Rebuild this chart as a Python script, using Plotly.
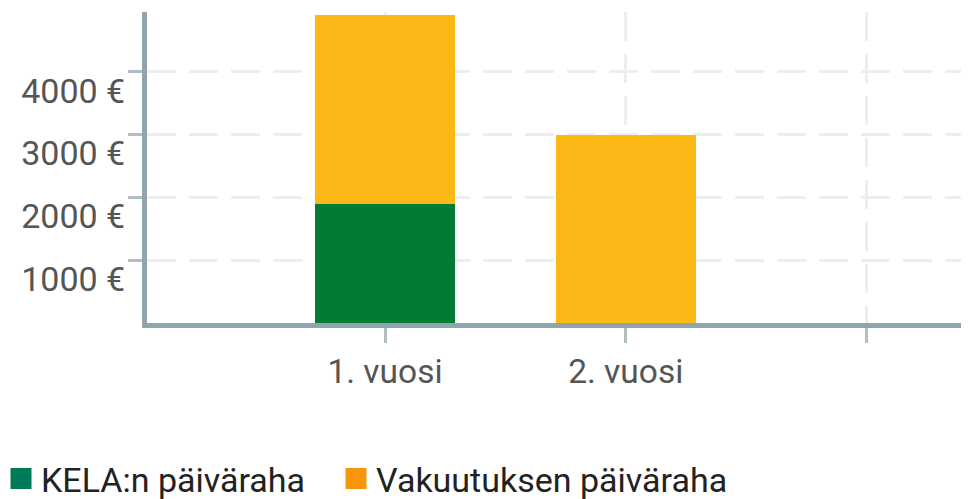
import plotly.graph_objects as go

categories = ["1. vuosi", "2. vuosi", ""]
kela_values = [1900, 0, None]
vakuutus_values = [3000, 3000, None]
series_names = ["KELA:n päiväraha", "Vakuutuksen päiväraha"]
bar_colors = ["#027b37", "#fcb816"]
legend_colors = ["#007b5a", "#f7950b"]
y_tick_values = [1000, 2000, 3000, 4000]
y_tick_labels = ["1000 €", "2000 €", "3000 €", "4000 €"]

x_pos = list(range(len(categories)))
FONT = "Roboto, Arial, sans-serif"

# page body has an 8px margin: the figure is sized so it ends at the window edge
W, H = 961, 491
L, T, B = 139, 4, 176
plot_w = W - L
plot_h = H - T - B

fig = go.Figure()
fig.add_trace(go.Bar(x=x_pos, y=kela_values, name=series_names[0],
                     marker=dict(color=bar_colors[0], line=dict(width=0)),
                     width=0.58, showlegend=False))
fig.add_trace(go.Bar(x=x_pos, y=vakuutus_values, name=series_names[1],
                     marker=dict(color=bar_colors[1], line=dict(width=0)),
                     width=0.58, showlegend=False))
legend_ids = ["legend", "legend2"]
for name, col, lg in zip(series_names, legend_colors, legend_ids):
    fig.add_trace(go.Scatter(x=[None], y=[None], mode="markers", name=name,
                             legend=lg,
                             marker=dict(symbol="square", size=16, color=col,
                                         line=dict(width=5, color=col))))

legend_y = -(471 - (H - B)) / plot_h
leg_common = dict(orientation="h", xanchor="left", y=legend_y, yanchor="middle",
                  font=dict(family=FONT, size=34, color="#222222"),
                  bgcolor="rgba(0,0,0,0)")
fig.update_layout(
    barmode="stack",
    width=W, height=H,
    margin=dict(l=L, r=0, t=T, b=B, autoexpand=False),
    paper_bgcolor="white", plot_bgcolor="white",
    font=dict(family=FONT, color="#555555"),
    showlegend=True,
    legend=dict(x=(-7 - L) / plot_w, **leg_common),
    legend2=dict(x=(-7 + 335 - L) / plot_w, **leg_common),
)
fig.update_xaxes(
    range=[-0.9886, 2.4257], automargin=False,
    tickmode="array", tickvals=x_pos, ticktext=categories,
    showline=True, linecolor="#90a4ae", linewidth=5,
    ticks="outside", ticklen=15, tickwidth=3, tickcolor="#b0bec5",
    showgrid=True, gridcolor="#eceff1", gridwidth=3, griddash="29px,13px",
    tickfont=dict(family=FONT, size=33.5, color="#555555"),
    zeroline=False, fixedrange=True,
)
fig.update_yaxes(
    range=[0, 4952], automargin=False,
    tickmode="array", tickvals=y_tick_values, ticktext=y_tick_labels,
    showline=True, linecolor="#90a4ae", linewidth=5,
    ticks="outside", ticklen=14, tickwidth=3, tickcolor="#b0bec5",
    ticklabelshift=19, ticklabelstandoff=-4,
    showgrid=True, gridcolor="#eceff1", gridwidth=3, griddash="29px,13px",
    tickfont=dict(family=FONT, size=34, color="#555555"),
    zeroline=False, fixedrange=True,
)

fig.write_html("out.html")
